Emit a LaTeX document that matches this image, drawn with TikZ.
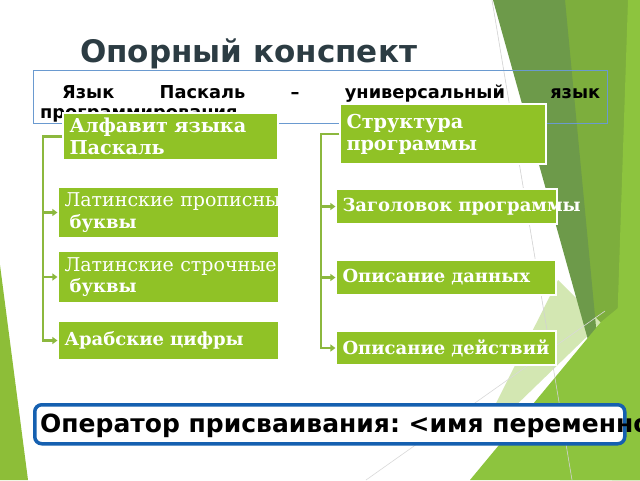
\documentclass[tikz,border=0pt]{standalone}
\usepackage{fontspec}
\setmainfont{DejaVu Sans}
\newfontfamily\dvs{DejaVu Sans}
\newfontfamily\dvr{DejaVu Serif}
\usetikzlibrary{arrows.meta}
\frenchspacing
\definecolor{boxgreen}{HTML}{90C226}
\definecolor{linegreen}{HTML}{8CB83E}
\definecolor{titlecol}{HTML}{2C3C43}
\definecolor{introblue}{HTML}{6A9AD0}
\definecolor{opblue}{HTML}{1560B0}
\definecolor{darkband}{HTML}{6D9A4A}
\definecolor{medgreen}{HTML}{7DAE3D}
\definecolor{brightgreen}{HTML}{8DC43E}
\definecolor{palegreen}{HTML}{D3E7B2}
\definecolor{slivergreen}{HTML}{8DBE38}
\begin{document}
\begin{tikzpicture}[x=1pt,y=-1pt,
  gbox/.style={fill=boxgreen, draw=white, line width=1.2pt, text=white, inner xsep=6.5pt, inner ysep=2pt, align=left, anchor=center},
  bigtxt/.style={font=\dvr\bfseries\fontsize{19.2}{22}\selectfont},
  smalltxt/.style={font=\dvr\fontsize{18}{21.5}\selectfont},
  regtxt/.style={font=\dvr\fontsize{19}{21.5}\selectfont},
  conn/.style={draw=linegreen, line width=2.6pt},
  arr/.style={conn, -{Triangle[length=5pt,width=7pt]}},
  introfont/.style={font=\dvs\bfseries\fontsize{17.8}{20}\selectfont, inner sep=0pt, anchor=base west},
]
\path[use as bounding box] (0,0) rectangle (640,480);
\clip (0,0) rectangle (640,480);
\fill[white] (0,0) rectangle (640,480);
% background decoration
\fill[slivergreen] (0,265) -- (28,480) -- (0,480) -- cycle;
\fill[medgreen] (560,0) -- (640,0) -- (640,480) -- (560,480) -- (595,330) -- cycle;
\fill[brightgreen] (628,0) -- (640,0) -- (640,480) -- (612,480) -- cycle;
\fill[palegreen] (558,280) -- (601,323) -- (475,445) -- cycle;
\fill[darkband] (493,0) -- (565,0) -- (602,390) -- cycle;
\fill[brightgreen] (470,480) -- (601,322) -- (640,290) -- (640,480) -- cycle;
\draw[gray!35, line width=0.6pt] (492,0) -- (572,480);
\draw[gray!30, line width=0.6pt] (366,480) -- (605,311);
% title
\node[font=\dvs\bfseries\fontsize{31}{36}\selectfont, text=titlecol, anchor=base west, inner sep=0pt] (title) at (80,62) {Опорный конспект};
% intro box
\node[draw=introblue, line width=0.8pt, minimum width=574pt, minimum height=53pt, anchor=north west, inner sep=0pt] (intro) at (33,70) {};
\node[introfont] (introA) at (62,98) {\makebox[538pt][l]{Язык\hfill Паскаль\hfill –\hfill универсальный\hfill язык}};
\node[introfont] (introB) at (40,118) {программирования};
% green boxes
\node[gbox, bigtxt, minimum width=215pt, minimum height=47pt, text width=202pt] (alph) at (170.5,136.5) {Алфавит языка\\Паскаль};
\node[gbox, bigtxt, minimum width=206pt, minimum height=60pt, text width=193pt] (struct) at (443,134) {Структура\\программы};
\node[gbox, regtxt, minimum width=221pt, minimum height=51pt, text width=208pt] (lat1) at (168.5,212.5) {\mbox{Латинские прописные}\\\hspace*{5pt}\fontsize{18}{21.5}\selectfont\bfseries буквы};
\node[gbox, regtxt, minimum width=221pt, minimum height=52pt, text width=208pt] (lat2) at (168.5,277) {\mbox{Латинские строчные}\\\hspace*{5pt}\fontsize{18}{21.5}\selectfont\bfseries буквы};
\node[gbox, smalltxt, minimum width=221pt, minimum height=39pt, text width=208pt] (arab) at (168.5,340.5) {\bfseries Арабские цифры};
\node[gbox, smalltxt, minimum width=221pt, minimum height=35pt, text width=208pt] (head) at (446.5,206.5) {\mbox{\bfseries Заголовок программы}};
\node[gbox, smalltxt, minimum width=220pt, minimum height=35pt, text width=207pt] (data) at (446,277.5) {\bfseries Описание данных};
\node[gbox, smalltxt, minimum width=220pt, minimum height=34pt, text width=207pt] (act) at (446,348) {\bfseries Описание действий};
% connectors
\coordinate (lx) at (43,0);
\coordinate (rx) at (321,0);
\draw[arr] (alph.west) -| (arab.west -| lx) -- (arab.west);
\draw[arr] (lat1.west -| lx) -- (lat1.west);
\draw[arr] (lat2.west -| lx) -- (lat2.west);
\draw[arr] (struct.west) -| (act.west -| rx) -- (act.west);
\draw[arr] (head.west -| rx) -- (head.west);
\draw[arr] (data.west -| rx) -- (data.west);
% operator box
\node[draw=opblue, line width=3.5pt, rounded corners=7pt, fill=white, minimum width=590pt, minimum height=39pt, anchor=north west, inner sep=0pt] (opbox) at (33,403) {};
\node[font=\dvs\bfseries\fontsize{25}{28}\selectfont, anchor=base west, inner sep=0pt] (optext) at (40,432) {Оператор присваивания: <имя переменно};
\end{tikzpicture}
\end{document}
